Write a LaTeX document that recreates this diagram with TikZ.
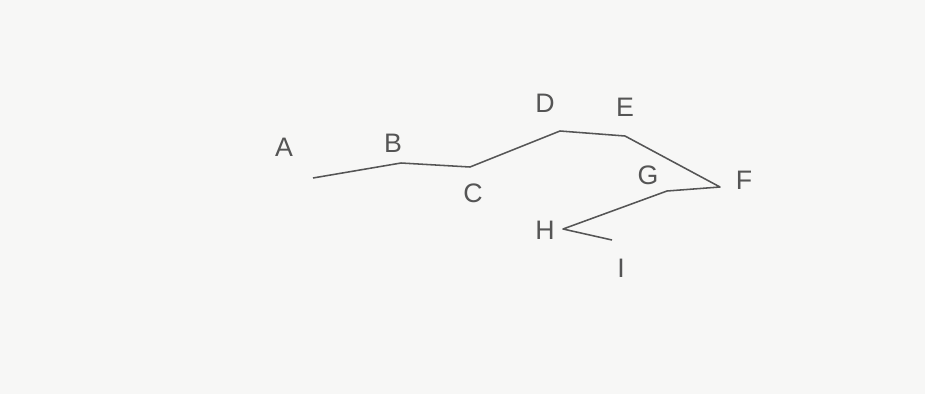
\documentclass[tikz,border=0pt]{standalone}
\usepackage{fontspec}
\setmainfont{Liberation Sans}
\usetikzlibrary{positioning}

\definecolor{paper}{HTML}{F7F7F6}
\definecolor{pencil}{HTML}{555555}

\begin{document}
\begin{tikzpicture}[
    x=0.025cm, y=-0.025cm,
    stroke/.style={draw=pencil, line width=1.1pt, line join=round},
    lbl/.style={text=pencil, font=\fontsize{19}{22}\selectfont, inner sep=0pt}
]
    % Paper
    \path[fill=paper] (0,0) rectangle (925,394);

    % Path points
    \coordinate (a) at (313,178);
    \coordinate (b) at (401,163);
    \coordinate (c) at (470,167);
    \coordinate (d) at (560,131);
    \coordinate (e) at (625,136);
    \coordinate (f) at (720,187);
    \coordinate (g) at (667,191);
    \coordinate (h) at (563,229);
    \coordinate (i) at (612,240);

    % Labels
    \node[lbl] (labA) at (284,147) {A};
    \node[lbl] (labB) at (393,143) {B};
    \node[lbl] (labC) at (473,193) {C};
    \node[lbl] (labD) at (545,103) {D};
    \node[lbl] (labE) at (625,107) {E};
    \node[lbl] (labF) at (744,180) {F};
    \node[lbl] (labG) at (648,175) {G};
    \node[lbl] (labH) at (545,230) {H};
    \node[lbl] (labI) at (621,268) {I};

    % Line
    \draw[stroke] (a) -- (b) -- (c) -- (d) -- (e) -- (f) -- (g) -- (h) -- (i);
\end{tikzpicture}
\end{document}
